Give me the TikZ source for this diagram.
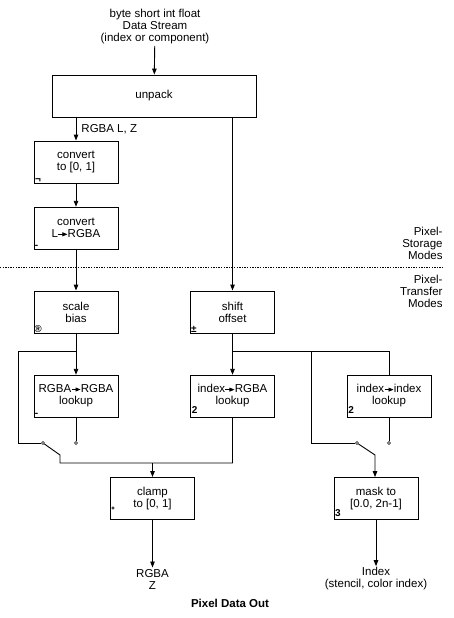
\documentclass[tikz,border=0pt]{standalone}
\usepackage{fontspec}
\setmainfont{Liberation Sans}
\usetikzlibrary{arrows.meta}
\tikzstyle{box}=[draw, minimum width=84pt, minimum height=42pt, align=center, inner sep=0pt]
\tikzstyle{cornermark}=[anchor=south west, inner sep=1pt, font=\fontsize{10}{10}\bfseries\selectfont]
\tikzstyle{pin}=[circle, draw, line width=0.5pt, fill=white, inner sep=0pt, minimum size=3pt]
\tikzstyle{flow}=[-{Triangle[length=6pt,width=4.5pt]}]
\newcommand{\tto}{\tikz[baseline=-0.55ex]\draw[line width=0.6pt,-{Triangle[length=5pt,width=4pt]}] (0pt,0pt) -- (9pt,0pt);}

\begin{document}
\begin{tikzpicture}[x=1pt, y=-1pt, line width=0.9pt, font=\fontsize{11.5}{12}\selectfont]
    \useasboundingbox (0,0) rectangle (454,618);
    \node[align=center, inner sep=1pt] (src) at (155,27) {byte short int float\\Data Stream\\(index or component)};
    \node[box, minimum width=204pt] (unpack) at (154,96) {unpack};
    \node[box] (conv1) at (76,162) {convert\\to [0, 1]};
    \node[box] (conv2) at (76,228) {convert\\L\tto RGBA};
    \node[box] (scale) at (76,312) {scale\\bias};
    \node[box] (shift) at (232.5,312) {shift\\offset};
    \node[box] (rlook) at (76,396) {RGBA\tto RGBA\\lookup};
    \node[box] (ilook) at (232.5,396) {index\tto RGBA\\lookup};
    \node[box] (iilook) at (389,396) {index\tto index\\lookup};
    \node[box] (clamp) at (152.5,498.5) {clamp\\to [0, 1]};
    \node[box] (mask) at (376,498.5) {mask to\\{}[0.0, 2n-1]};
    \node[align=center, inner sep=1pt] (rgbaout) at (152.5,579) {RGBA\\Z};
    \node[align=center, inner sep=1pt] (idxout) at (376,579) {Index\\(stencil, color index)};
    \node[font=\fontsize{11.5}{12}\bfseries\selectfont] (out) at (230,603) {Pixel Data Out};
    % corner marks
    \node[cornermark] at (conv1.south west) {¬};
    \node[cornermark, inner sep=0.5pt] at (conv2.south west) {-};
    \node[cornermark, inner sep=0.3pt] at (scale.south west) {®};
    \node[cornermark, inner sep=0.5pt] at (shift.south west) {±};
    \node[cornermark, inner sep=0.5pt] at (rlook.south west) {-};
    \node[cornermark, yshift=2pt] at (ilook.south west) {2};
    \node[cornermark, yshift=2pt] at (iilook.south west) {2};
    \node[cornermark, yshift=2pt] at (mask.south west) {3};
    \draw[line width=0.5pt] (113,508) circle (1.3pt);
    % modes
    \node[anchor=east, align=right, inner sep=0pt] (storage) at (443,243) {Pixel-\\Storage\\Modes};
    \node[anchor=east, align=right, inner sep=0pt] (transfer) at (443,291) {Pixel-\\Transfer\\Modes};
    \draw[line width=0.6pt, dash pattern=on 1.3pt off 1.3pt] (0,267) -- (443,267);
    % switches
    \node[pin] (p1) at (43,443) {};
    \node[pin] (c1) at (76,443) {};
    \node[pin] (p2) at (357,443) {};
    \node[pin] (c2) at (389,443) {};
    \coordinate (sb) at (76,351);
    \coordinate (lt) at (18,351);
    \coordinate (k1) at (60,455);
    \coordinate (k2) at (60,463);
    \coordinate (jn) at (232.5,463);
    \coordinate (rb) at (232.5,351);
    \coordinate (rm) at (311,351);
    \coordinate (k3) at (375,455);
    % connectors
    \draw[flow] (src) -- (unpack);
    \draw[flow] (unpack.south -| conv1.north) -- (conv1.north);
    \draw (unpack.south -| conv1.north) node[anchor=north west, inner sep=0pt, xshift=5pt, yshift=-7pt] (lbl) {RGBA L, Z};
    \draw[flow] (conv1) -- (conv2);
    \draw[flow] (conv2) -- (scale);
    \draw[flow] (unpack.south -| shift.north) -- (shift.north);
    \draw[flow] (scale) -- (rlook);
    \draw (sb) -- (lt) |- (p1);
    \draw (rlook) -- (c1);
    \draw (p1) -- (k1) -- (k2) -- (jn) -- (ilook.south);
    \draw[flow] (clamp.north |- jn) -- (clamp.north);
    \draw[flow] (clamp) -- (rgbaout);
    \draw[flow] (shift) -- (ilook);
    \draw (rb) -- (iilook.north |- rb) -- (iilook.north);
    \draw (rm) |- (p2);
    \draw (iilook) -- (c2);
    \draw[flow] (p2) -- (k3) -- (mask.north -| k3);
    \draw[flow] (mask) -- (idxout);
  \end{tikzpicture}
\end{document}
